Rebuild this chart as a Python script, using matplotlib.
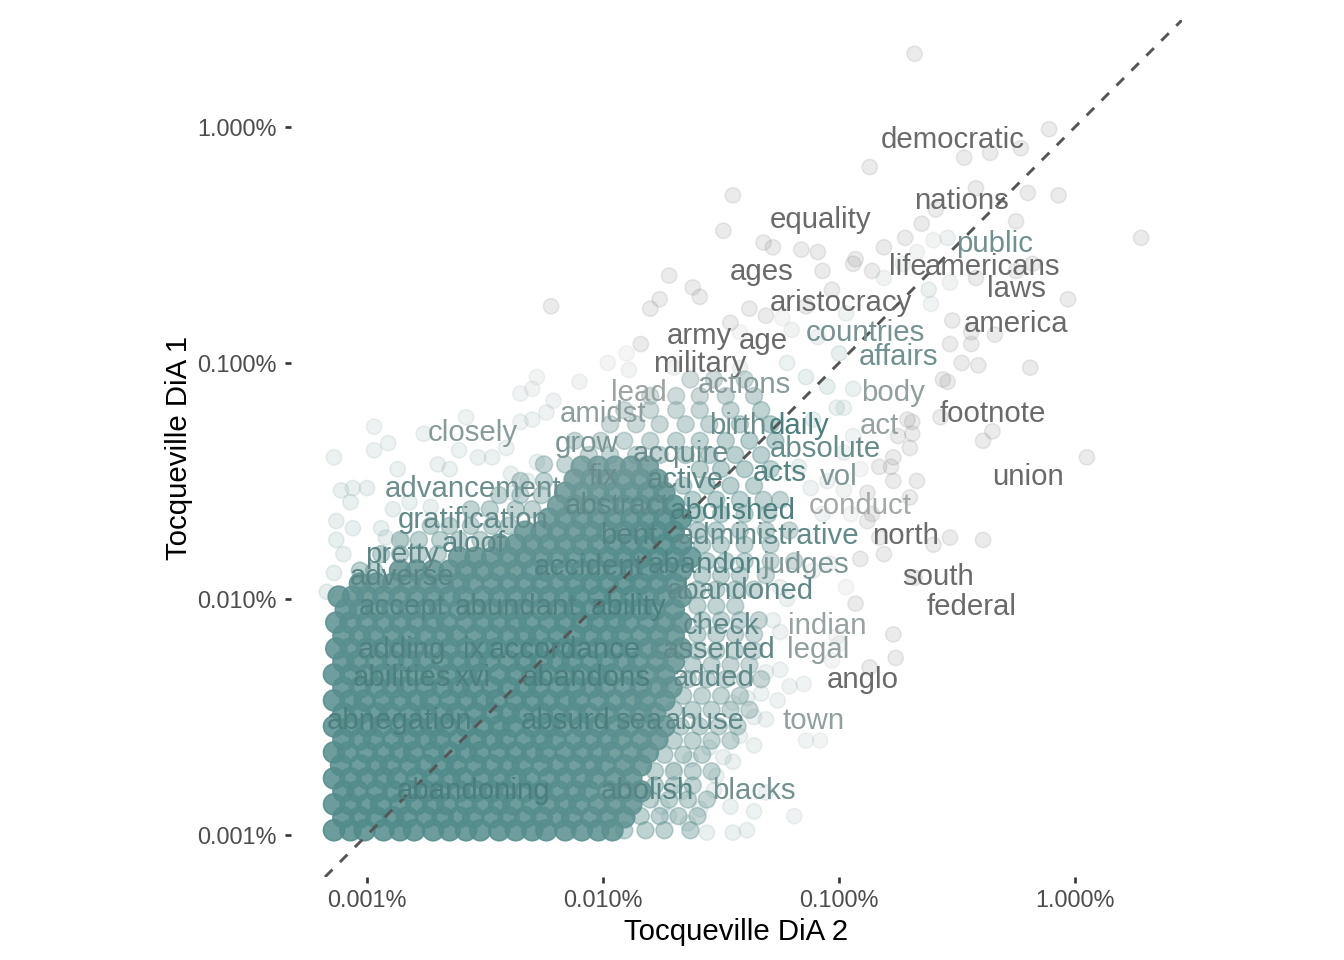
import numpy as np
import matplotlib.pyplot as plt
from matplotlib.colors import to_rgba
from matplotlib.ticker import FixedLocator, FuncFormatter, NullLocator

plt.rcParams["font.family"] = ["Liberation Sans", "DejaVu Sans"]

# ===================== DATOS =====================
# palabras etiquetadas: log10 de la proporción en DiA 2 (x) y DiA 1 (y)
words = ["democratic", "nations", "equality", "public", "life", "americans",
         "ages", "laws", "aristocracy", "america", "countries", "army", "age",
         "affairs", "military", "actions", "body", "lead", "amidst", "footnote",
         "birth", "daily", "act", "closely", "grow", "absolute", "acquire",
         "acts", "fix", "active", "vol", "union", "advancement", "abstract",
         "conduct", "abolished", "gratification", "bent", "administrative",
         "north", "aloof", "pretty", "accident", "abandon", "judges", "adverse",
         "south", "abandoned", "accept", "abundant", "ability", "federal",
         "check", "indian", "adding", "ix", "accordance", "asserted", "legal",
         "abilities", "xvi", "abandons", "added", "anglo", "abnegation",
         "absurd", "sea", "abuse", "town", "abandoning", "abolish", "blacks"]
words_dia2 = [-2.52, -2.48, -3.08, -2.34, -2.71, -2.35,
              -3.33, -2.25, -2.99, -2.25, -2.89, -3.59, -3.32,
              -2.75, -3.59, -3.40, -2.77, -3.85, -4.00, -2.35,
              -3.43, -3.17, -2.83, -4.55, -4.07, -3.06, -3.67,
              -3.25, -4.00, -3.65, -3.00, -2.20, -4.55, -3.94,
              -2.91, -3.45, -4.55, -3.89, -3.30,
              -2.72, -4.55, -4.85, -4.06, -3.57, -3.14, -4.85,
              -2.58, -3.42, -4.85, -4.37, -3.89, -2.44,
              -3.50, -3.05, -4.85, -4.55, -4.16, -3.51, -3.09,
              -4.85, -4.55, -4.07, -3.53, -2.90, -4.86,
              -4.16, -3.85, -3.57, -3.11, -4.55, -3.81, -3.36]
words_dia1 = [-1.94, -2.20, -2.28, -2.38, -2.48, -2.48,
              -2.50, -2.57, -2.63, -2.72, -2.76, -2.77, -2.79,
              -2.86, -2.89, -2.98, -3.01, -3.01, -3.10, -3.10,
              -3.15, -3.15, -3.15, -3.18, -3.23, -3.25, -3.27,
              -3.35, -3.37, -3.38, -3.37, -3.37, -3.42, -3.49,
              -3.49, -3.51, -3.55, -3.62, -3.62,
              -3.62, -3.65, -3.70, -3.75, -3.74, -3.74, -3.79,
              -3.79, -3.85, -3.92, -3.92, -3.92, -3.92,
              -4.00, -4.00, -4.10, -4.10, -4.10, -4.10, -4.10,
              -4.22, -4.22, -4.22, -4.22, -4.23, -4.40,
              -4.40, -4.40, -4.40, -4.40, -4.70, -4.70, -4.70]

# núcleo denso de la nube (muchas palabras apiladas), por filas de DiA 1
core_dia1 = [-4.98, -4.925, -4.87, -4.815, -4.76, -4.705, -4.65, -4.595,
             -4.54, -4.485, -4.43, -4.375, -4.32, -4.265, -4.21, -4.155,
             -4.10, -4.045, -3.99, -3.935, -3.88, -3.825, -3.77, -3.715,
             -3.66, -3.605, -3.55, -3.495, -3.44]
core_dia2 = [
    [-5.14, -5.07, -5.01, -4.93, -4.86, -4.80, -4.72, -4.65, -4.58, -4.52, -4.44, -4.37, -4.30, -4.24, -4.16, -4.09, -4.02, -3.96],
    [-5.10, -5.03, -4.96, -4.89, -4.83, -4.75, -4.68, -4.61, -4.55, -4.47, -4.40, -4.33, -4.26, -4.19, -4.13, -4.05, -3.98, -3.91],
    [-5.14, -5.07, -5.00, -4.94, -4.86, -4.79, -4.72, -4.66, -4.58, -4.51, -4.44, -4.38, -4.30, -4.23, -4.16, -4.10, -4.02, -3.95, -3.88],
    [-5.10, -5.04, -4.96, -4.89, -4.82, -4.75, -4.69, -4.61, -4.54, -4.47, -4.41, -4.33, -4.26, -4.19, -4.12, -4.06, -3.98, -3.91, -3.84],
    [-5.14, -5.07, -5.00, -4.93, -4.87, -4.79, -4.72, -4.65, -4.59, -4.51, -4.44, -4.37, -4.31, -4.23, -4.16, -4.09, -4.03, -3.95, -3.88],
    [-5.11, -5.03, -4.96, -4.90, -4.82, -4.75, -4.68, -4.62, -4.54, -4.47, -4.40, -4.34, -4.26, -4.19, -4.12, -4.05, -3.99, -3.91, -3.84],
    [-5.14, -5.08, -5.00, -4.93, -4.86, -4.80, -4.72, -4.65, -4.58, -4.52, -4.44, -4.37, -4.30, -4.24, -4.16, -4.09, -4.02, -3.96, -3.88, -3.81],
    [-5.10, -5.03, -4.97, -4.89, -4.82, -4.75, -4.69, -4.61, -4.54, -4.47, -4.41, -4.33, -4.26, -4.20, -4.12, -4.05, -3.98, -3.92, -3.84, -3.77],
    [-5.14, -5.07, -5.00, -4.94, -4.86, -4.79, -4.72, -4.66, -4.58, -4.51, -4.44, -4.38, -4.30, -4.23, -4.17, -4.09, -4.02, -3.95, -3.89, -3.81, -3.74],
    [-5.10, -5.03, -4.96, -4.90, -4.82, -4.75, -4.68, -4.62, -4.54, -4.47, -4.40, -4.34, -4.26, -4.19, -4.12, -4.06, -3.98, -3.91, -3.84, -3.78],
    [-5.14, -5.07, -5.01, -4.93, -4.86, -4.79, -4.73, -4.65, -4.58, -4.51, -4.45, -4.37, -4.30, -4.23, -4.16, -4.10, -4.02, -3.95, -3.88, -3.82, -3.74],
    [-5.10, -5.03, -4.96, -4.89, -4.83, -4.75, -4.68, -4.61, -4.55, -4.47, -4.40, -4.33, -4.27, -4.19, -4.12, -4.05, -3.99, -3.91, -3.84, -3.77, -3.71],
    [-5.14, -5.07, -5.00, -4.93, -4.87, -4.79, -4.72, -4.65, -4.58, -4.52, -4.44, -4.37, -4.30, -4.24, -4.16, -4.09, -4.02, -3.96, -3.88, -3.81, -3.74],
    [-5.10, -5.04, -4.96, -4.89, -4.82, -4.76, -4.68, -4.61, -4.54, -4.48, -4.40, -4.33, -4.26, -4.19, -4.13, -4.05, -3.98, -3.91, -3.85, -3.77, -3.70],
    [-5.13, -5.07, -5.00, -4.93, -4.86, -4.80, -4.72, -4.65, -4.58, -4.51, -4.45, -4.37, -4.30, -4.23, -4.16, -4.10, -4.02, -3.95, -3.88, -3.81, -3.75, -3.67],
    [-5.10, -5.03, -4.97, -4.89, -4.82, -4.75, -4.68, -4.62, -4.54, -4.47, -4.40, -4.33, -4.27, -4.19, -4.12, -4.05, -3.98, -3.92, -3.84, -3.77, -3.70],
    [-5.13, -5.07, -5.00, -4.93, -4.86, -4.79, -4.72, -4.66, -4.58, -4.51, -4.44, -4.37, -4.31, -4.23, -4.16, -4.09, -4.02, -3.95, -3.89, -3.81, -3.74, -3.67],
    [-5.09, -5.03, -4.96, -4.89, -4.82, -4.75, -4.69, -4.61, -4.54, -4.47, -4.40, -4.34, -4.26, -4.19, -4.12, -4.05, -3.98, -3.91, -3.84, -3.78, -3.70],
    [-5.12, -5.06, -5.00, -4.93, -4.86, -4.79, -4.72, -4.65, -4.59, -4.51, -4.44, -4.37, -4.30, -4.23, -4.16, -4.10, -4.02, -3.95, -3.88, -3.81, -3.74, -3.67],
    [-5.03, -4.96, -4.89, -4.82, -4.75, -4.68, -4.61, -4.55, -4.47, -4.40, -4.33, -4.26, -4.19, -4.12, -4.05, -3.98, -3.91, -3.84, -3.77, -3.70],
    [-4.86, -4.79, -4.72, -4.65, -4.58, -4.51, -4.44, -4.37, -4.30, -4.24, -4.16, -4.09, -4.02, -3.95, -3.88, -3.81, -3.74, -3.67],
    [-4.61, -4.54, -4.47, -4.40, -4.33, -4.26, -4.19, -4.12, -4.05, -3.98, -3.91, -3.84, -3.77, -3.70, -3.63],
    [-4.44, -4.37, -4.30, -4.23, -4.16, -4.09, -4.02, -3.95, -3.88, -3.81, -3.74, -3.67],
    [-4.33, -4.26, -4.19, -4.12, -4.05, -3.98, -3.91, -3.84, -3.77, -3.70],
    [-4.23, -4.16, -4.09, -4.02, -3.95, -3.88, -3.81, -3.74, -3.67],
    [-4.19, -4.12, -4.05, -3.98, -3.91, -3.84, -3.77, -3.70],
    [-4.16, -4.09, -4.02, -3.95, -3.88, -3.81, -3.74],
    [-4.12, -4.05, -3.98, -3.91, -3.84, -3.77],
    [-4.09, -4.02, -3.95, -3.88, -3.81],
]

# zona intermedia (pocas palabras apiladas)
mid_dia2 = [-3.91, -3.82, -3.74, -3.63,
            -3.84, -3.76, -3.68, -3.60,
            -3.80, -3.72, -3.64, -3.56,
            -3.78, -3.70, -3.62,
            -3.78, -3.70, -3.62, -3.54,
            -3.74, -3.66, -3.58,
            -3.70, -3.62, -3.54, -3.46,
            -3.67, -3.59, -3.51, -3.43,
            -3.70, -3.62, -3.54, -3.46, -3.38,
            -3.66, -3.58, -3.50, -3.42,
            -3.64, -3.56, -3.48, -3.40, -3.33,
            -3.62, -3.54, -3.46, -3.38,
            -3.60, -3.52, -3.44, -3.36,
            -3.60, -3.52, -3.44, -3.36,
            -3.58, -3.50, -3.42, -3.34,
            -3.60, -3.52, -3.44,
            -3.60, -3.52, -3.44, -3.36,
            -3.58, -3.50, -3.42, -3.31,
            -3.56, -3.48, -3.40, -3.29, -3.19,
            -3.58, -3.50, -3.40, -3.29,
            -3.60, -3.52, -3.42, -3.31, -3.21,
            -3.60, -3.50, -3.40, -3.30,
            -3.62, -3.52, -3.42, -3.32, -3.25,
            -3.66, -3.56, -3.46, -3.36,
            -3.59, -3.50, -3.40, -3.29,
            -4.06, -3.97, -3.86, -3.76, -3.65, -3.55, -3.44, -3.33,
            -4.12, -4.01, -3.91, -3.80, -3.69, -3.59, -3.48, -3.38, -3.27,
            -3.97, -3.86, -3.76, -3.65, -3.55, -3.42, -3.29,
            -3.91, -3.80, -3.69, -3.59, -3.46, -3.33,
            -3.80, -3.69, -3.59, -3.48, -3.36,
            -3.63, -3.53, -3.40,
            -5.03, -4.97, -4.94, -4.86, -4.78, -4.70, -4.86, -4.78, -4.69, -4.61,
            -4.52, -4.73, -4.65, -4.56, -4.47, -4.40, -4.56, -4.48, -4.37, -4.30,
            -4.44, -4.35, -4.26, -4.35, -4.25, -4.25, -4.16]
mid_dia1 = [-4.98, -4.98, -4.98, -4.98,
            -4.92, -4.92, -4.92, -4.92,
            -4.85, -4.85, -4.85, -4.85,
            -4.79, -4.79, -4.79,
            -4.73, -4.73, -4.73, -4.73,
            -4.66, -4.66, -4.66,
            -4.60, -4.60, -4.60, -4.60,
            -4.54, -4.54, -4.54, -4.54,
            -4.47, -4.47, -4.47, -4.47, -4.47,
            -4.41, -4.41, -4.41, -4.41,
            -4.34, -4.34, -4.34, -4.34, -4.34,
            -4.28, -4.28, -4.28, -4.28,
            -4.22, -4.22, -4.22, -4.22,
            -4.15, -4.15, -4.15, -4.15,
            -4.09, -4.09, -4.09, -4.09,
            -4.03, -4.03, -4.03,
            -3.96, -3.96, -3.96, -3.96,
            -3.90, -3.90, -3.90, -3.90,
            -3.84, -3.84, -3.84, -3.84, -3.84,
            -3.77, -3.77, -3.77, -3.77,
            -3.71, -3.71, -3.71, -3.71, -3.71,
            -3.64, -3.64, -3.64, -3.64,
            -3.58, -3.58, -3.58, -3.58, -3.58,
            -3.52, -3.52, -3.52, -3.52,
            -3.45, -3.45, -3.45, -3.45,
            -3.39, -3.39, -3.39, -3.39, -3.39, -3.39, -3.39, -3.39,
            -3.33, -3.33, -3.33, -3.33, -3.33, -3.33, -3.33, -3.33, -3.33,
            -3.26, -3.26, -3.26, -3.26, -3.26, -3.26, -3.26,
            -3.20, -3.20, -3.20, -3.20, -3.20, -3.20,
            -3.14, -3.14, -3.14, -3.14, -3.14,
            -3.07, -3.07, -3.07,
            -3.88, -3.88, -3.81, -3.81, -3.81, -3.81, -3.75, -3.75, -3.75, -3.75,
            -3.75, -3.69, -3.69, -3.69, -3.69, -3.69, -3.62, -3.62, -3.62, -3.62,
            -3.56, -3.56, -3.56, -3.50, -3.50, -3.43, -3.43]

# palabras sueltas alrededor de la nube
halo_dia2 = [-4.97, -5.14, -4.97, -4.91, -4.76, -4.58, -4.61, -4.53, -4.47, -4.41,
             -4.35, -4.30, -4.35, -4.30, -4.24, -4.21, -4.87, -4.70, -4.65, -5.11,
             -5.06, -5.00, -5.07, -5.13, -5.06, -4.94, -4.89, -4.82, -4.73, -4.39,
             -4.32, -4.28, -4.38, -5.13, -5.10, -5.14, -5.17, -4.92, -4.85,
             -3.45, -3.49, -3.32, -3.28, -3.16, -3.09, -3.07, -2.94, -2.86, -3.72,
             -3.62, -3.59, -3.76, -3.80, -4.22, -3.38, -3.31, -3.24, -3.14, -3.03,
             -2.97, -3.46, -3.42, -3.20, -3.09, -3.00, -3.84, -3.90, -3.98, -4.28,
             -4.10, -3.89, -3.70, -3.42, -3.22, -3.14, -3.05, -3.01, -3.11, -2.56,
             -2.71, -2.69, -2.94, -2.98, -2.91, -2.83, -2.77, -2.88, -2.98, -2.86,
             -2.95, -3.07, -3.05, -3.12, -3.17, -2.98, -2.94,
             -2.68, -2.11, -2.23, -2.47, -2.36, -2.87, -2.42, -2.20, -2.07, -2.25,
             -2.59, -2.65, -2.72, -2.60, -2.54, -1.72, -2.81, -2.67, -2.73, -2.81,
             -2.62, -2.53, -2.42, -2.25, -2.18, -2.03, -2.61, -2.52, -2.44, -2.34,
             -2.93, -2.44, -2.53, -2.41, -2.48, -2.19, -2.54, -2.57, -2.69, -2.75,
             -2.35, -2.39, -1.95, -2.70, -2.77, -2.78, -2.67, -2.70, -2.88, -2.53,
             -2.39, -2.60, -2.83, -2.81, -2.91, -2.68, -2.97, -2.93, -2.77, -2.76,
             -2.87, -3.00,
             -3.03, -3.15, -3.21, -3.26, -3.33, -3.39, -3.45, -3.36, -3.31, -3.42,
             -3.36, -3.14, -3.08, -3.45, -3.52, -3.53, -3.46, -3.36, -3.19, -3.31,
             -3.39, -3.45, -3.56, -3.64, -3.72, -3.59, -3.75, -3.67, -3.70, -3.63,
             -3.55, -3.49, -3.25, -3.31, -3.25, -3.28, -3.22, -3.25, -3.01, -3.11,
             -3.04]
halo_dia1 = [-3.27, -3.40, -3.37, -3.34, -3.30, -3.23, -3.37, -3.40, -3.40, -3.36,
             -3.25, -3.24, -3.13, -3.11, -3.21, -3.16, -3.45, -3.43, -3.45, -3.54,
             -3.53, -3.53, -3.59, -3.67, -3.70, -3.70, -3.62, -3.59, -3.61, -3.47,
             -3.50, -3.42, -3.55, -3.75, -3.81, -3.89, -3.97, -3.74, -3.75,
             -2.29, -2.44, -2.49, -2.51, -2.52, -2.53, -2.61, -2.58, -2.61, -2.63,
             -2.68, -2.72, -2.73, -2.77, -2.76, -2.77, -2.80, -2.81, -2.76, -2.69,
             -2.79, -2.83, -2.87, -2.86, -2.89, -2.96, -2.92, -2.96, -3.00, -3.06,
             -3.08, -3.03, -3.02, -3.02, -3.00, -3.06, -3.10, -3.19, -3.24, -3.07,
             -3.24, -3.30, -3.31, -3.38, -3.45, -3.44, -3.50, -3.55, -3.54, -3.64,
             -3.64, -3.64, -3.50, -3.53, -3.44, -3.19, -3.11,
             -1.69, -2.01, -2.09, -2.13, -2.11, -2.17, -2.26, -2.28, -2.29, -2.40,
             -2.35, -2.41, -2.47, -2.48, -2.47, -2.47, -2.51, -2.53, -2.58, -2.64,
             -2.69, -2.66, -2.64, -2.61, -2.58, -2.73, -2.75, -2.82, -2.87, -2.88,
             -2.56, -2.92, -2.92, -3.01, -3.00, -3.02, -3.08, -3.23, -3.25, -3.31,
             -3.29, -3.33, -3.40, -3.36, -3.40, -3.44, -3.50, -3.57, -3.67, -3.74,
             -3.75, -3.77, -3.74, -3.81, -3.83, -3.91, -3.95, -4.02, -4.15, -4.25,
             -4.29, -4.19,
             -4.26, -4.36, -4.37, -4.43, -4.40, -4.42, -4.44, -4.50, -4.51, -4.58,
             -4.62, -4.60, -4.60, -4.69, -4.75, -4.81, -4.88, -4.90, -4.92, -4.82,
             -4.98, -4.99, -4.99, -4.95, -4.92, -4.89, -4.88, -4.82, -4.72, -4.68,
             -4.63, -4.67, -4.30, -4.31, -4.14, -4.09, -4.00, -3.95, -4.16, -3.88,
             -3.85]

# cuántas palabras se apilan en cada punto de cada zona
STACK_CORE = 18
STACK_MID = 5
STACK_HALO = 1.5

TICKS = [1e-5, 1e-4, 1e-3, 1e-2]
OUTPUT_FILENAME = "out.png"
# =================================================

LOW = np.array(to_rgba("#528B8B"))    # darkslategray4
HIGH = np.array(to_rgba("#BFBFBF"))   # gray75
NA_COLOR = np.array(to_rgba("#767676"))  # fuera de los límites
TEXT_SHADE = 0.9  # el texto se ve algo más oscuro que los puntos


def colores(p2, p1, alpha=1.0):
    """Color según la diferencia absoluta de proporciones (límites 0 a 0.001)."""
    dif = np.abs(p2 - p1)
    t = np.clip(dif / 0.001, 0, 1)[:, None]
    cols = LOW + (HIGH - LOW) * t
    cols[dif > 0.001] = NA_COLOR
    cols[:, 3] = alpha
    return cols


def graficar():
    fig = plt.figure(figsize=(7, 5), dpi=192)
    ax = fig.add_axes([291 / 1344, 1 - 877 / 960, 891 / 1344, 857 / 960])
    ax.set_xscale("log")
    ax.set_yscale("log")

    core_x = np.concatenate([np.array(r) for r in core_dia2])
    core_y = np.concatenate([np.full(len(r), lv) for r, lv in zip(core_dia2, core_dia1)])

    # (x, y, palabras apiladas, tamaño del punto)
    capas = [
        (np.array(halo_dia2), np.array(halo_dia1), STACK_HALO, 33),
        (np.array(mid_dia2), np.array(mid_dia1), STACK_MID, 40),
        (core_x, core_y, STACK_CORE, 62),
    ]
    for lx, ly, stack, size in capas:
        p2, p1 = 10.0 ** lx, 10.0 ** ly
        alpha = 1 - 0.9 ** stack
        c = colores(p2, p1, alpha)
        ax.scatter(p2, p1, s=size, c=c, edgecolors=c, linewidths=0.6, zorder=2)

    ax.axline((1e-5, 1e-5), (1e-2, 1e-2), color="#555555", lw=1.1,
              dashes=(3.6, 3.6), zorder=3)

    p2w, p1w = 10.0 ** np.array(words_dia2), 10.0 ** np.array(words_dia1)
    cw = colores(p2w, p1w)
    cw[:, :3] *= TEXT_SHADE
    for w, x, y, c in zip(words, p2w, p1w, cw):
        ax.annotate(w, (x, y), xytext=(0, -10.2), textcoords="offset points",
                    ha="center", va="center", fontsize=11, color=c, zorder=4)

    ax.set_xlim(10 ** -5.322, 10 ** -1.547)
    ax.set_ylim(10 ** -5.178, 10 ** -1.547)

    fmt = FuncFormatter(lambda v, _: f"{v * 100:.3f}%")
    for axis in (ax.xaxis, ax.yaxis):
        axis.set_major_locator(FixedLocator(TICKS))
        axis.set_minor_locator(NullLocator())
        axis.set_major_formatter(fmt)
    ax.tick_params(length=2.4, width=1.0, color="#333333", labelcolor="#4D4D4D",
                   labelsize=8.8)
    ax.tick_params(axis="x", pad=2.0)
    ax.tick_params(axis="y", pad=3.0)
    for s in ax.spines.values():
        s.set_visible(False)

    ax.set_xlabel("Tocqueville DiA 2", fontsize=11, labelpad=2.5)
    ax.set_ylabel("Tocqueville DiA 1", fontsize=11, labelpad=1.5)

    fig.savefig(OUTPUT_FILENAME, dpi=192)


if __name__ == "__main__":
    graficar()
